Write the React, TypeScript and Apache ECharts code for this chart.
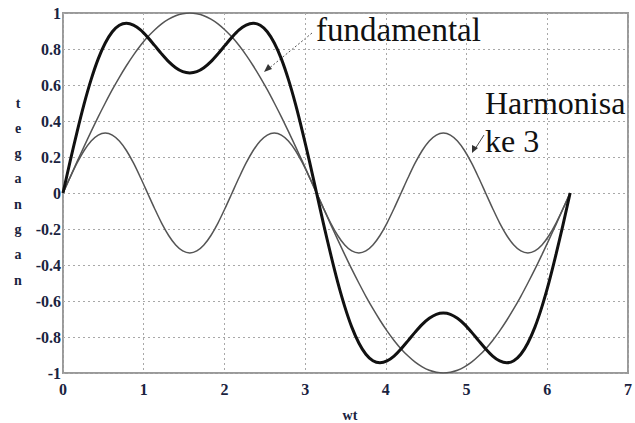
import React, { useEffect, useRef } from "react";
import * as echarts from "echarts";

// sample positions (wt, radians, 5° steps)
const wt = [0, 0.0873, 0.1745, 0.2618, 0.3491, 0.4363, 0.5236, 0.6109, 0.6981, 0.7854, 0.8727, 0.9599, 1.0472, 1.1345, 1.2217, 1.309, 1.3963, 1.4835, 1.5708, 1.6581, 1.7453, 1.8326, 1.9199, 2.0071, 2.0944, 2.1817, 2.2689, 2.3562, 2.4435, 2.5307, 2.618, 2.7053, 2.7925, 2.8798, 2.9671, 3.0543, 3.1416, 3.2289, 3.3161, 3.4034, 3.4907, 3.5779, 3.6652, 3.7525, 3.8397, 3.927, 4.0143, 4.1015, 4.1888, 4.2761, 4.3633, 4.4506, 4.5379, 4.6251, 4.7124, 4.7997, 4.8869, 4.9742, 5.0615, 5.1487, 5.236, 5.3233, 5.4105, 5.4978, 5.5851, 5.6723, 5.7596, 5.8469, 5.9341, 6.0214, 6.1087, 6.1959, 6.2832];

const fundamental = [0, 0.087, 0.174, 0.259, 0.342, 0.423, 0.5, 0.574, 0.643, 0.707, 0.766, 0.819, 0.866, 0.906, 0.94, 0.966, 0.985, 0.996, 1, 0.996, 0.985, 0.966, 0.94, 0.906, 0.866, 0.819, 0.766, 0.707, 0.643, 0.574, 0.5, 0.423, 0.342, 0.259, 0.174, 0.087, 0, -0.087, -0.174, -0.259, -0.342, -0.423, -0.5, -0.574, -0.643, -0.707, -0.766, -0.819, -0.866, -0.906, -0.94, -0.966, -0.985, -0.996, -1, -0.996, -0.985, -0.966, -0.94, -0.906, -0.866, -0.819, -0.766, -0.707, -0.643, -0.574, -0.5, -0.423, -0.342, -0.259, -0.174, -0.087, 0];

const harmonic3 = [0, 0.086, 0.167, 0.236, 0.289, 0.322, 0.333, 0.322, 0.289, 0.236, 0.167, 0.086, 0, -0.086, -0.167, -0.236, -0.289, -0.322, -0.333, -0.322, -0.289, -0.236, -0.167, -0.086, 0, 0.086, 0.167, 0.236, 0.289, 0.322, 0.333, 0.322, 0.289, 0.236, 0.167, 0.086, 0, -0.086, -0.167, -0.236, -0.289, -0.322, -0.333, -0.322, -0.289, -0.236, -0.167, -0.086, 0, 0.086, 0.167, 0.236, 0.289, 0.322, 0.333, 0.322, 0.289, 0.236, 0.167, 0.086, 0, -0.086, -0.167, -0.236, -0.289, -0.322, -0.333, -0.322, -0.289, -0.236, -0.167, -0.086, 0];

const combined = [0, 0.174, 0.34, 0.495, 0.631, 0.745, 0.833, 0.896, 0.932, 0.943, 0.933, 0.906, 0.866, 0.82, 0.773, 0.73, 0.696, 0.674, 0.667, 0.674, 0.696, 0.73, 0.773, 0.82, 0.866, 0.906, 0.933, 0.943, 0.932, 0.896, 0.833, 0.745, 0.631, 0.495, 0.34, 0.174, 0, -0.174, -0.34, -0.495, -0.631, -0.745, -0.833, -0.896, -0.932, -0.943, -0.933, -0.906, -0.866, -0.82, -0.773, -0.73, -0.696, -0.674, -0.667, -0.674, -0.696, -0.73, -0.773, -0.82, -0.866, -0.906, -0.933, -0.943, -0.932, -0.896, -0.833, -0.745, -0.631, -0.495, -0.34, -0.174, 0];

const yAxisTitle = "tegangan";
const xAxisTitle = "wt";
const labelFundamental = "fundamental";
const labelHarmonic = ["Harmonisa", "ke 3"];

const pair = (ys: number[]) => wt.map((x, i) => [x, ys[i]]);

export default function App() {
  const ref = useRef<HTMLDivElement>(null);
  useEffect(() => {
    if (!ref.current) return;
    const chart = echarts.init(ref.current, null, { renderer: "svg" });
    const tickFont = {
      fontFamily: "Liberation Serif",
      fontWeight: "bold" as const,
      fontSize: 16,
      color: "#1a2340",
    };
    const letters = yAxisTitle.split("");
    chart.setOption({
      animation: false,
      backgroundColor: "#ffffff",
      grid: {
        left: 63,
        right: 3,
        top: 13,
        bottom: 50,
        show: true,
        borderColor: "#9a9a9a",
        borderWidth: 2,
        containLabel: false,
      },
      xAxis: {
        type: "value",
        min: 0,
        max: 7,
        interval: 1,
        axisLine: { show: false },
        axisTick: { show: false },
        axisLabel: { ...tickFont, margin: 8 },
        splitLine: {
          show: true,
          lineStyle: { color: "#a8a8a8", type: [2, 3], width: 1 },
        },
      },
      yAxis: {
        type: "value",
        min: -1,
        max: 1,
        interval: 0.2,
        axisLine: { show: false },
        axisTick: { show: false },
        axisLabel: {
          ...tickFont,
          margin: 2,
          formatter: (v: number) => String(Math.round(v * 10) / 10),
        },
        splitLine: {
          show: true,
          lineStyle: { color: "#a8a8a8", type: [2, 3], width: 1 },
        },
      },
      series: [
        {
          name: "fundamental",
          type: "line",
          data: pair(fundamental),
          smooth: 0.3,
          showSymbol: false,
          lineStyle: { color: "#555555", width: 1.5 },
        },
        {
          name: "harmonisa ke 3",
          type: "line",
          data: pair(harmonic3),
          smooth: 0.3,
          showSymbol: false,
          lineStyle: { color: "#555555", width: 1.5 },
        },
        {
          name: "total",
          type: "line",
          data: pair(combined),
          smooth: 0.3,
          showSymbol: false,
          lineStyle: { color: "#111111", width: 3 },
        },
      ],
      graphic: [
        ...letters.map((ch, i) => ({
          type: "text",
          x: 18,
          y: 103 + i * 25.3,
          style: {
            text: ch,
            fontFamily: "Liberation Serif",
            fontWeight: "bold",
            fontSize: 14,
            fill: "#1a2340",
            align: "center",
            verticalAlign: "middle",
          },
        })),
        {
          type: "text",
          x: 350,
          y: 415,
          z: 100,
          style: {
            text: xAxisTitle,
            fontFamily: "Liberation Serif",
            fontWeight: "bold",
            fontSize: 14,
            fill: "#1a2340",
            align: "center",
            verticalAlign: "middle",
          },
        },
        {
          type: "text",
          x: 316,
          y: 13,
          style: {
            text: labelFundamental,
            fontFamily: "Liberation Serif",
            fontSize: 33,
            fill: "#111111",
            align: "left",
            verticalAlign: "top",
          },
        },
        {
          type: "line",
          shape: { x1: 312, y1: 33, x2: 267, y2: 70 },
          style: { stroke: "#555555", lineWidth: 1, lineDash: [2, 2] },
        },
        {
          type: "polygon",
          shape: { points: [[264, 72], [268, 64], [272, 69]] },
          style: { fill: "#333333" },
        },
        {
          type: "text",
          x: 485,
          y: 84,
          style: {
            text: labelHarmonic.join("\n"),
            fontFamily: "Liberation Serif",
            fontSize: 32,
            lineHeight: 38,
            fill: "#111111",
            align: "left",
            verticalAlign: "top",
          },
        },
        {
          type: "line",
          shape: { x1: 484, y1: 135, x2: 475, y2: 149 },
          style: { stroke: "#444444", lineWidth: 1 },
        },
        {
          type: "polygon",
          shape: { points: [[472, 153], [472, 145], [478, 148]] },
          style: { fill: "#333333" },
        },
      ],
    });
    return () => chart.dispose();
  }, []);
  return (
    <div
      ref={ref}
      style={{ position: "fixed", left: 0, top: 0, width: 635, height: 423 }}
    />
  );
}
